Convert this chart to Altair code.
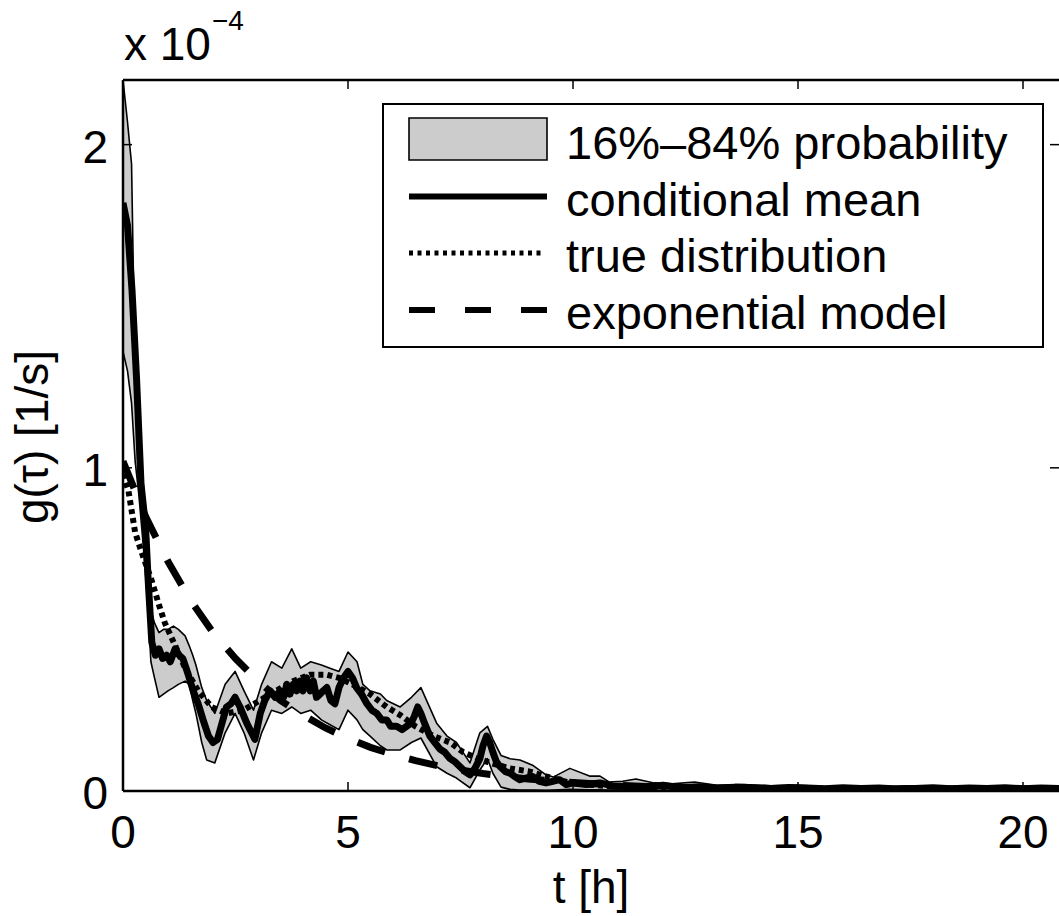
import altair as alt
import pandas as pd

# ---------------- data (values in units of 1e-4 1/s, time in hours) ----------------
band_t = [0.00, 0.10, 0.19, 0.27, 0.35, 0.45, 0.55, 0.62, 0.70, 0.80, 0.90, 1.00, 1.12, 1.23,
          1.38, 1.47, 1.55, 1.62, 1.75, 1.86, 2.04, 2.27, 2.49, 2.69, 2.90, 3.08, 3.30, 3.53,
          3.75, 3.95, 4.17, 4.41, 4.60, 4.80, 5.00, 5.20, 5.33, 5.49, 5.72, 5.86, 6.16, 6.41,
          6.62, 6.97, 7.20, 7.41, 7.71, 7.93, 8.10, 8.22, 8.40, 8.60, 8.82, 9.10, 9.40, 9.56,
          9.93, 10.38, 10.60, 10.80, 11.10, 11.40, 11.80, 12.20, 12.70, 13.20, 13.80, 14.40,
          15.00, 15.60, 16.20, 16.80, 17.40, 18.00, 18.60, 19.20, 19.80, 20.40, 20.80]
band_lo = [1.36, 1.30, 1.20, 1.02, 0.92, 0.76, 0.58, 0.40, 0.35, 0.29, 0.30, 0.31, 0.32, 0.33,
           0.34, 0.33, 0.28, 0.24, 0.15, 0.096, 0.087, 0.18, 0.24, 0.18, 0.096, 0.18, 0.25, 0.24,
           0.26, 0.24, 0.25, 0.22, 0.205, 0.19, 0.25, 0.22, 0.19, 0.17, 0.14, 0.127, 0.127, 0.15,
           0.164, 0.075, 0.055, 0.040, 0.010, 0.065, 0.100, 0.055, 0.012, 0.005, 0.003, 0.003,
           0.002, 0.003, 0.005, 0.004, 0.004, 0.003, 0.003, 0.003, 0.002, 0.002, 0.002, 0.002,
           0.002, 0.001, 0.001, 0.001, 0.001, 0.001, 0.001, 0.001, 0.001, 0.001, 0.001, 0.001, 0.001]
band_hi = [2.20, 2.07, 1.94, 1.27, 1.12, 0.95, 0.76, 0.56, 0.52, 0.49, 0.50, 0.50, 0.51, 0.50,
           0.48, 0.45, 0.42, 0.39, 0.32, 0.28, 0.24, 0.33, 0.37, 0.31, 0.25, 0.33, 0.40, 0.38,
           0.44, 0.38, 0.40, 0.39, 0.38, 0.37, 0.43, 0.40, 0.33, 0.31, 0.30, 0.28, 0.26, 0.29,
           0.32, 0.21, 0.17, 0.15, 0.087, 0.18, 0.20, 0.16, 0.11, 0.10, 0.096, 0.080, 0.050,
           0.043, 0.070, 0.046, 0.046, 0.028, 0.030, 0.037, 0.025, 0.022, 0.028, 0.018, 0.020,
           0.016, 0.018, 0.014, 0.015, 0.013, 0.016, 0.014, 0.015, 0.013, 0.016, 0.014, 0.015]

mean_t = [0.00, 0.10, 0.20, 0.30, 0.40, 0.50, 0.56, 0.64, 0.72, 0.80, 0.88, 0.97, 1.05, 1.16,
          1.25, 1.33, 1.45, 1.56, 1.67, 1.78, 1.90, 2.00, 2.10, 2.16, 2.30, 2.40, 2.49, 2.60,
          2.75, 2.93, 3.05, 3.15, 3.27, 3.38, 3.49, 3.57, 3.64, 3.71, 3.78, 3.86, 3.93, 4.00,
          4.08, 4.16, 4.23, 4.30, 4.38, 4.45, 4.53, 4.62, 4.71, 4.80, 4.90, 5.00, 5.10, 5.19,
          5.30, 5.42, 5.53, 5.64, 5.75, 5.86, 5.95, 6.08, 6.20, 6.30, 6.40, 6.47, 6.55, 6.62,
          6.70, 6.82, 6.93, 7.04, 7.15, 7.27, 7.38, 7.49, 7.60, 7.71, 7.82, 7.93, 8.00, 8.08,
          8.15, 8.22, 8.30, 8.38, 8.50, 8.60, 8.70, 8.82, 8.95, 9.10, 9.25, 9.40, 9.55, 9.70,
          9.85, 10.00, 10.30, 10.60, 10.90, 11.20, 11.60, 12.00, 12.40, 12.80, 13.20, 13.60,
          14.00, 14.40, 14.80, 15.20, 15.60, 16.00, 16.40, 16.80, 17.20, 17.60, 18.00, 18.40,
          18.80, 19.20, 19.60, 20.00, 20.40, 20.80]
mean_v = [1.82, 1.75, 1.55, 1.28, 0.95, 0.82, 0.65, 0.46, 0.42, 0.44, 0.41, 0.42, 0.40, 0.44,
          0.42, 0.41, 0.36, 0.31, 0.27, 0.22, 0.17, 0.15, 0.16, 0.19, 0.26, 0.27, 0.29, 0.26,
          0.21, 0.16, 0.24, 0.28, 0.31, 0.29, 0.31, 0.29, 0.33, 0.30, 0.33, 0.31, 0.34, 0.31,
          0.35, 0.31, 0.34, 0.29, 0.30, 0.31, 0.32, 0.28, 0.27, 0.32, 0.35, 0.37, 0.35, 0.32,
          0.30, 0.27, 0.25, 0.24, 0.22, 0.22, 0.20, 0.20, 0.19, 0.20, 0.21, 0.23, 0.26, 0.24,
          0.21, 0.17, 0.15, 0.13, 0.12, 0.10, 0.09, 0.075, 0.06, 0.05, 0.07, 0.10, 0.14, 0.17,
          0.15, 0.12, 0.09, 0.075, 0.06, 0.055, 0.045, 0.035, 0.04, 0.045, 0.03, 0.025, 0.03, 0.035,
          0.02, 0.025, 0.02, 0.025, 0.015, 0.015, 0.012, 0.018, 0.010, 0.013, 0.009, 0.012,
          0.010, 0.008, 0.011, 0.009, 0.007, 0.010, 0.008, 0.009, 0.006, 0.008, 0.010, 0.007,
          0.009, 0.008, 0.010, 0.007, 0.009, 0.008]

true_t = [0.00, 0.12, 0.27, 0.41, 0.64, 0.79, 0.93, 1.16, 1.38, 1.67, 1.97, 2.30, 2.67, 3.04,
          3.40, 3.78, 4.16, 4.53, 4.80, 5.10, 5.49, 5.86, 6.16, 6.50, 6.90, 7.27, 7.56, 7.90,
          8.20, 8.60, 9.04, 9.40, 9.86, 10.30, 10.80, 11.50, 12.50, 14.00, 16.00, 18.00, 20.80]
true_v = [0.98, 0.93, 0.80, 0.74, 0.65, 0.58, 0.52, 0.45, 0.38, 0.31, 0.26, 0.24, 0.25, 0.28,
          0.31, 0.34, 0.36, 0.36, 0.35, 0.33, 0.30, 0.26, 0.235, 0.20, 0.17, 0.15, 0.12, 0.10,
          0.085, 0.07, 0.06, 0.045, 0.028, 0.02, 0.015, 0.012, 0.009, 0.007, 0.005, 0.004, 0.003]

exp_t = [0.0, 0.5, 1.0, 1.5, 2.0, 2.5, 3.0, 3.5, 4.0, 4.5, 5.0, 5.5, 6.0, 6.5, 7.0, 7.5, 8.0,
         9.0, 10.0, 11.0, 12.0, 13.0, 14.0, 15.0, 16.0, 17.0, 18.0, 19.0, 20.0, 20.8]
exp_v = [1.02, 0.85, 0.71, 0.59, 0.49, 0.41, 0.34, 0.28, 0.235, 0.195, 0.163, 0.135, 0.113,
         0.094, 0.078, 0.065, 0.054, 0.037, 0.026, 0.018, 0.012, 0.008, 0.006, 0.004, 0.003,
         0.002, 0.001, 0.001, 0.001, 0.0005]

x_ticks = [0, 5, 10, 15, 20]
y_ticks = [0, 1, 2]
x_inner_ticks = [5, 10, 15, 20]
y_inner_ticks = [1, 2]
legend_labels = ["16%–84% probability", "conditional mean", "true distribution", "exponential model"]
x_title = "t [h]"
y_title = "g(τ) [1/s]"
exp_base = "x 10"
exp_power = "−4"

# ---------------- layout / style ----------------
W, H = 936, 711
FONT = "Liberation Sans"
FS = 46
GREY = "#cccccc"
XMAX, YMAX = 20.8, 2.2
TICK = 9

xs = alt.Scale(domain=[0, XMAX], nice=False, zero=False)
ys = alt.Scale(domain=[0, YMAX], nice=False, zero=False)

band_df = pd.DataFrame({"t": band_t, "lo": band_lo, "hi": band_hi})
mean_df = pd.DataFrame({"t": mean_t, "v": mean_v})
true_df = pd.DataFrame({"t": true_t, "v": true_v})
exp_df = pd.DataFrame({"t": exp_t, "v": exp_v})
one = pd.DataFrame({"k": [0]})


def X(field="t"):
    return alt.X(f"{field}:Q", scale=xs, axis=None)


def Y(field="v"):
    return alt.Y(f"{field}:Q", scale=ys, axis=None)


band = alt.Chart(band_df).mark_area(fill=GREY, stroke="black", strokeWidth=1.6, clip=True,
                                    strokeJoin="round").encode(
    x=X("t"), y=Y("hi"), y2="lo:Q")

mean_line = alt.Chart(mean_df).mark_line(color="black", strokeWidth=7, clip=True,
                                         strokeJoin="round").encode(x=X(), y=Y())

true_line = alt.Chart(true_df).mark_line(color="black", strokeWidth=6, strokeDash=[5, 4],
                                         clip=True).encode(x=X(), y=Y())

exp_line = alt.Chart(exp_df).mark_line(color="black", strokeWidth=7, strokeDash=[29, 25],
                                       clip=True).encode(x=X(), y=Y())

# frame: axis lines and inward ticks
left_line = alt.Chart(one).mark_rule(color="black", strokeWidth=2.5).encode(
    x=alt.value(0), y=alt.value(0), y2=alt.value(H))
bottom_line = alt.Chart(one).mark_rule(color="black", strokeWidth=2.5).encode(
    x=alt.value(0), x2=alt.value(W), y=alt.value(H))
top_border = alt.Chart(one).mark_rule(color="black", strokeWidth=2.5).encode(
    x=alt.value(0), x2=alt.value(W), y=alt.value(0))

xt_df = pd.DataFrame({"t": x_inner_ticks})
yt_df = pd.DataFrame({"v": y_inner_ticks})
bottom_ticks = alt.Chart(xt_df).mark_rule(color="black", strokeWidth=1.5).encode(
    x=X(), y=alt.value(H), y2=alt.value(H - TICK))
top_ticks = alt.Chart(xt_df).mark_rule(color="black", strokeWidth=1.5).encode(
    x=X(), y=alt.value(0), y2=alt.value(TICK))
left_ticks = alt.Chart(yt_df).mark_rule(color="black", strokeWidth=1.5).encode(
    y=Y(), x=alt.value(0), x2=alt.value(TICK))
right_ticks = alt.Chart(yt_df).mark_rule(color="black", strokeWidth=1.5).encode(
    y=Y(), x=alt.value(W - TICK), x2=alt.value(W))

# tick labels
x_lab = alt.Chart(pd.DataFrame({"t": x_ticks, "s": [str(v) for v in x_ticks]})).mark_text(
    font=FONT, fontSize=FS, align="center", baseline="alphabetic", color="black").encode(
    x=X(), y=alt.value(H + 57), text="s:N")
y_lab = alt.Chart(pd.DataFrame({"v": y_ticks, "s": [str(v) for v in y_ticks]})).mark_text(
    font=FONT, fontSize=FS, align="right", baseline="alphabetic", color="black", dy=18).encode(
    y=Y(), x=alt.value(-15), text="s:N")

# axis titles
x_tit = alt.Chart(one).mark_text(font=FONT, fontSize=FS, align="center", baseline="alphabetic",
                                 color="black", text=x_title).encode(
    x=alt.value(W / 2), y=alt.value(H + 112))
y_tit = alt.Chart(one).mark_text(font=FONT, fontSize=FS, align="center", baseline="alphabetic",
                                 color="black", angle=270, text=y_title).encode(
    x=alt.value(-75), y=alt.value(357))

# exponent label above the axis
exp_text = alt.Chart(one).mark_text(font=FONT, fontSize=FS, align="left",
                                    baseline="alphabetic", color="black", text=exp_base).encode(
    x=alt.value(1), y=alt.value(-20))
exp_sup = alt.Chart(one).mark_text(font=FONT, fontSize=28, align="left",
                                   baseline="alphabetic", color="black", text=exp_power).encode(
    x=alt.value(89), y=alt.value(-50))

# legend (drawn by hand, MATLAB style)
LX0, LX1 = 260, 920
SX0, SX1 = 286, 424
leg_box = alt.Chart(one).mark_rect(fill="white", stroke="black", strokeWidth=2).encode(
    x=alt.value(LX0), x2=alt.value(LX1), y=alt.value(24), y2=alt.value(267))
leg_patch = alt.Chart(one).mark_rect(fill=GREY, stroke="black", strokeWidth=1.6).encode(
    x=alt.value(SX0), x2=alt.value(SX1), y=alt.value(38), y2=alt.value(80))
leg_solid = alt.Chart(one).mark_rule(color="black", strokeWidth=6).encode(
    x=alt.value(SX0), x2=alt.value(SX1), y=alt.value(116.5))
leg_dot = alt.Chart(one).mark_rule(color="black", strokeWidth=5, strokeDash=[4, 4.5]).encode(
    x=alt.value(SX0), x2=alt.value(SX1 - 2), y=alt.value(173))
leg_dash = alt.Chart(one).mark_rule(color="black", strokeWidth=6, strokeDash=[26, 30]).encode(
    x=alt.value(SX0), x2=alt.value(SX1), y=alt.value(230))

text_baselines = [79, 135.5, 192, 248.5]
leg_texts = [
    alt.Chart(one).mark_text(font=FONT, fontSize=FS + 1, align="left", baseline="alphabetic",
                             color="black", text=lab).encode(x=alt.value(443), y=alt.value(yb))
    for lab, yb in zip(legend_labels, text_baselines)
]

chart = alt.layer(
    band, mean_line, true_line, exp_line,
    left_line, bottom_line, top_border, bottom_ticks, top_ticks, left_ticks, right_ticks,
    x_lab, y_lab, x_tit, y_tit, exp_text, exp_sup,
    leg_box, leg_patch, leg_solid, leg_dot, leg_dash, *leg_texts,
).properties(
    width=W, height=H,
    autosize=alt.AutoSizeParams(type="none"),
    padding={"left": 123, "top": 80, "right": 0, "bottom": 125},
    background="white",
).configure_view(stroke=None)

chart.save("out.html", embed_options={"renderer": "svg", "actions": False})
